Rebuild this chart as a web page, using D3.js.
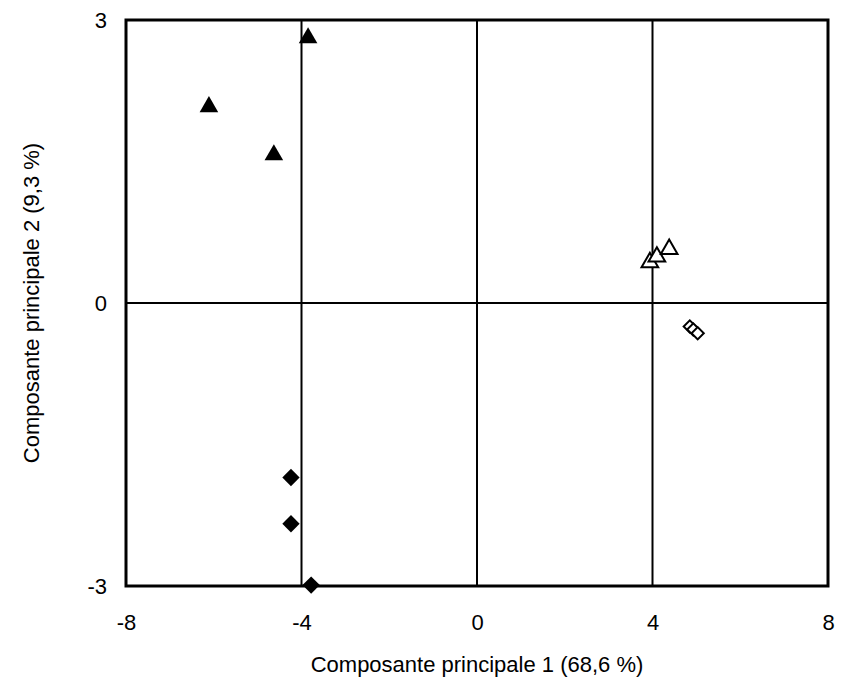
<!DOCTYPE html>
<html>
<head>
<meta charset="utf-8">
<script src="https://cdn.jsdelivr.net/npm/d3@7"></script>
<style>
  html, body { margin: 0; padding: 0; background: #fff; }
  svg text { font-family: "Liberation Sans", Arial, sans-serif; fill: #000; }
</style>
</head>
<body>
<svg id="chart" width="841" height="688"></svg>
<script>
// ---- data ----
const xTicks = [-8, -4, 0, 4, 8];
const yTicks = [-3, 0, 3];
const xTitle = "Composante principale 1 (68,6 %)";
const yTitle = "Composante principale 2 (9,3 %)";

const filledTriX = [-6.11, -4.63, -3.85];
const filledTriY = [2.08, 1.57, 2.81];
const openTriX = [3.94, 4.10, 4.38];
const openTriY = [0.43, 0.49, 0.57];
const openDiaX = [4.85, 4.93, 5.03];
const openDiaY = [-0.25, -0.28, -0.32];
const filledDiaX = [-4.24, -4.24, -3.78];
const filledDiaY = [-1.85, -2.34, -2.99];

// ---- layout ----
const L = 126, R = 828, T = 20, B = 586;
const FS = 22;
const svg = d3.select("#chart");
const x = d3.scaleLinear().domain([-8, 8]).range([L, R]);
const y = d3.scaleLinear().domain([-3, 3]).range([B, T]);

// reference lines at x = -4, 0, 4 and y = 0
const g = svg.append("g");
g.selectAll("line.vx").data([-4, 0, 4]).join("line")
  .attr("x1", d => x(d)).attr("x2", d => x(d))
  .attr("y1", T).attr("y2", B)
  .attr("stroke", "#000").attr("stroke-width", 2);
g.selectAll("line.hy").data([0]).join("line")
  .attr("x1", L).attr("x2", R)
  .attr("y1", d => y(d)).attr("y2", d => y(d))
  .attr("stroke", "#000").attr("stroke-width", 2);

// frame
svg.append("rect").attr("x", L).attr("y", T).attr("width", R - L).attr("height", B - T)
  .attr("fill", "none").attr("stroke", "#000").attr("stroke-width", 3);

// axes (labels only)
const fmt = d => String(d);
const xAxis = d3.axisBottom(x).tickValues(xTicks).tickSize(0).tickPadding(0).tickFormat(fmt);
const gx = svg.append("g").attr("transform", `translate(0,${B})`).call(xAxis);
gx.select(".domain").remove();
gx.selectAll("text").attr("font-size", FS).attr("dy", null).attr("y", 44)
  .style("font-family", '"Liberation Sans", Arial, sans-serif');

const yAxis = d3.axisLeft(y).tickValues(yTicks).tickSize(0).tickPadding(0).tickFormat(fmt);
const gy = svg.append("g").attr("transform", `translate(${L},0)`).call(yAxis);
gy.select(".domain").remove();
gy.selectAll("text").attr("font-size", FS).attr("x", -19).attr("dy", "0.35em")
  .style("font-family", '"Liberation Sans", Arial, sans-serif');

// titles
svg.append("text").attr("x", (L + R) / 2).attr("y", 672).attr("text-anchor", "middle")
  .attr("font-size", FS).text(xTitle);
svg.append("text").attr("transform", `translate(39,${(T + B) / 2}) rotate(-90)`)
  .attr("text-anchor", "middle").attr("font-size", FS).text(yTitle);

// markers
const tri = d3.symbol().type(d3.symbolTriangle);
const sq = d3.symbol().type(d3.symbolSquare);
const pts = (xs, ys) => xs.map((v, i) => [v, ys[i]]);

svg.append("g").selectAll("path").data(pts(filledTriX, filledTriY)).join("path")
  .attr("d", tri.size(150)())
  .attr("transform", d => `translate(${x(d[0])},${y(d[1])})`)
  .attr("fill", "#000");

svg.append("g").selectAll("path").data(pts(openTriX, openTriY)).join("path")
  .attr("d", tri.size(120)())
  .attr("transform", d => `translate(${x(d[0])},${y(d[1])})`)
  .attr("fill", "#fff").attr("stroke", "#000").attr("stroke-width", 2);

svg.append("g").selectAll("path").data(pts(openDiaX, openDiaY)).join("path")
  .attr("d", sq.size(75)())
  .attr("transform", d => `translate(${x(d[0])},${y(d[1])}) rotate(45)`)
  .attr("fill", "#fff").attr("stroke", "#000").attr("stroke-width", 2);

svg.append("g").selectAll("path").data(pts(filledDiaX, filledDiaY)).join("path")
  .attr("d", sq.size(150)())
  .attr("transform", d => `translate(${x(d[0])},${y(d[1])}) rotate(45)`)
  .attr("fill", "#000");
</script>
</body>
</html>
